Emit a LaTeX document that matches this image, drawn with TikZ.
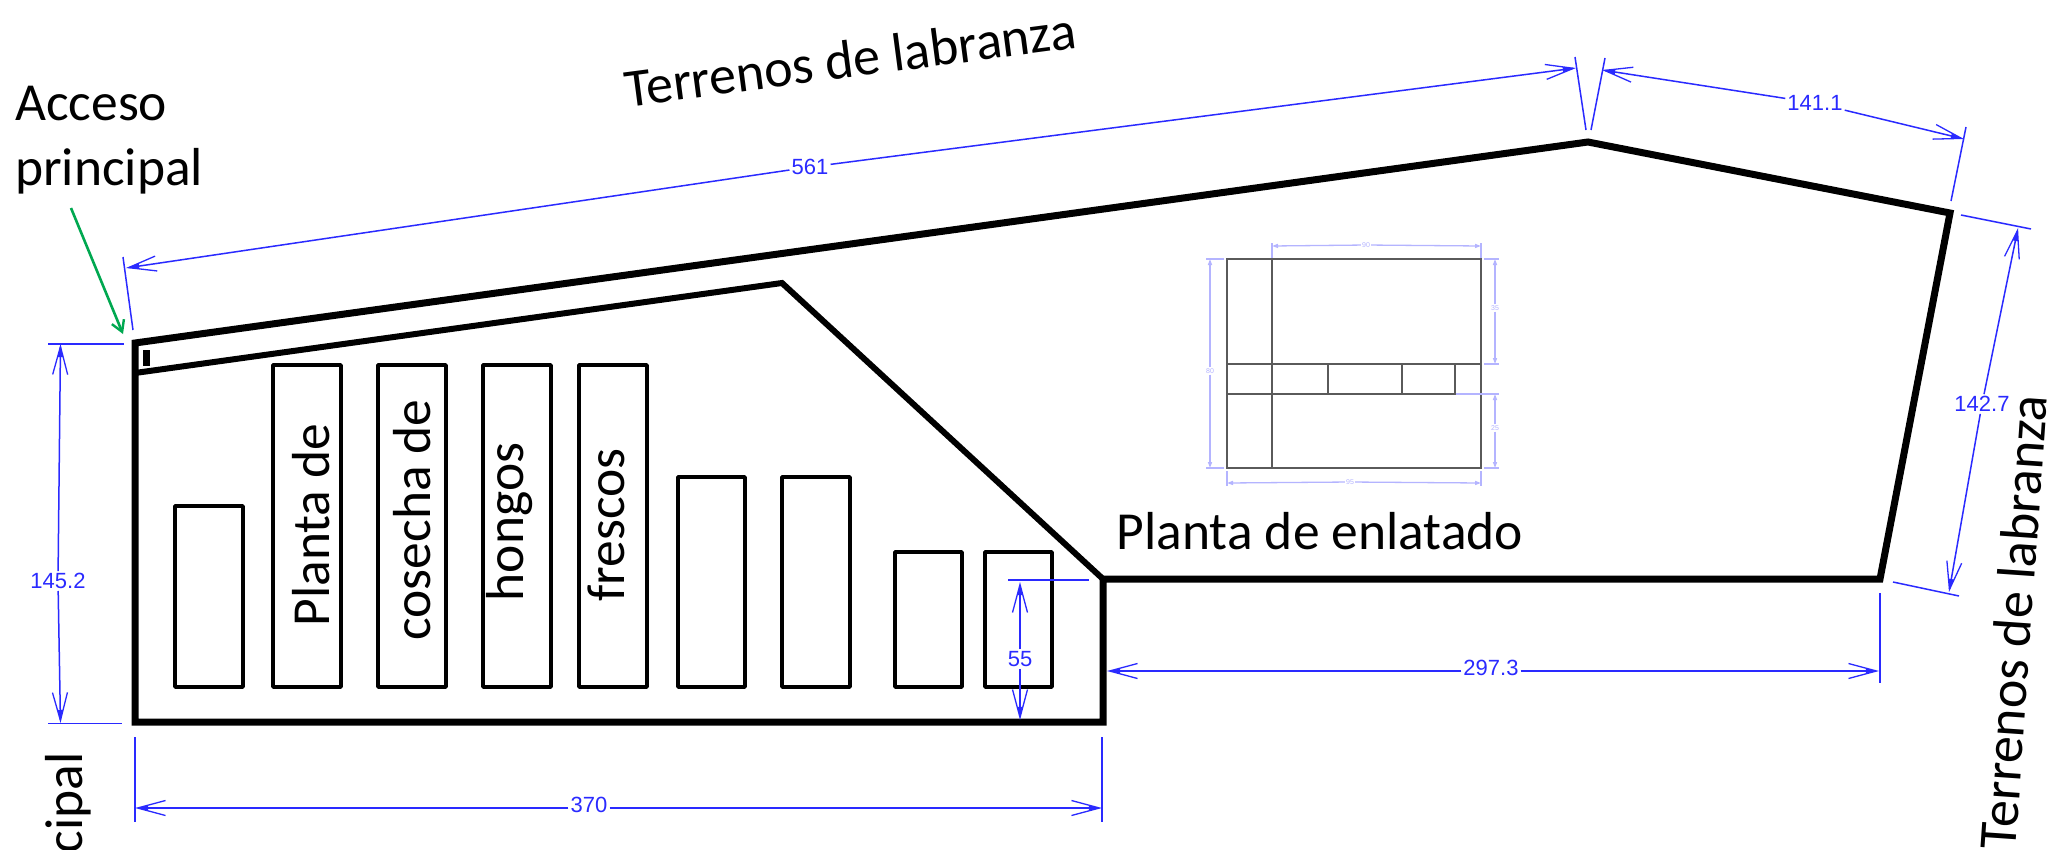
\documentclass[tikz,border=0pt]{standalone}
\usepackage{fontspec}
\setmainfont{Carlito}
\newfontfamily\dimfont{Liberation Sans}
\usetikzlibrary{arrows.meta}
\definecolor{dimblue}{HTML}{2A2AFF}
\definecolor{palegrid}{HTML}{B4B4FF}
\definecolor{wallgrey}{HTML}{5A5A5A}
\definecolor{accessgreen}{HTML}{00A850}
\tikzset{
  x=1pt,y=-1pt,
  wall/.style={draw=black,line width=7pt,line join=miter},
  innerwall/.style={draw=black,line width=6pt,line join=miter},
  bay/.style={draw=black,line width=3.6pt,line join=round},
  ext/.style={draw=dimblue,line width=1.5pt},
  dimline/.style={draw=dimblue,line width=1.5pt,-{Stealth[length=10pt,width=5pt,inset=0pt,sep=-28pt]Straight Barb[length=28pt,width=15pt,line width=1.3pt]}},
  dimlabel/.style={text=dimblue,font=\dimfont\fontsize{22}{22}\selectfont,inner sep=2pt},
  bigtext/.style={font=\fontsize{53.5}{60}\selectfont,inner sep=0pt},
  planline/.style={draw=wallgrey,line width=1.4pt},
  paleline/.style={draw=palegrid,line width=1.3pt},
  palearrow/.style={draw=palegrid,line width=1.3pt,-{Stealth[length=6pt,width=4pt,inset=0pt]}},
  palelabel/.style={text=palegrid,font=\dimfont\fontsize{7}{7}\selectfont,inner sep=1pt,fill=white},
}
\begin{document}
\begin{tikzpicture}
\useasboundingbox (0,0) rectangle (2051,849);
\fill[white] (0,0) rectangle (2051,849);
% small floor plan
\draw[planline] (1227,259) rectangle (1481,468);
\draw[planline] (1272,259) -- (1272,468);
\draw[planline] (1227,364) -- (1481,364);
\draw[planline] (1227,394) -- (1455,394) -- (1455,364);
\draw[planline] (1328,364) -- (1328,394);
\draw[planline] (1402,364) -- (1402,394);
% its pale dimensions
\coordinate (pa) at (1272,246); \coordinate (pb) at (1481,246);
\coordinate (pc) at (1227,483); \coordinate (pd) at (1481,483);
\coordinate (pe) at (1210,259); \coordinate (pf) at (1210,468);
\coordinate (pg) at (1495,259); \coordinate (ph) at (1495,364);
\coordinate (pi) at (1495,394); \coordinate (pj) at (1495,468);
\node[palelabel] (ptop) at (1366,245) {90};
\node[palelabel] (pbot) at (1350,482) {95};
\node[palelabel] (pleft) at (1210,371) {80};
\node[palelabel] (pr1) at (1495,308) {35};
\node[palelabel] (pr2) at (1495,428) {25};
\foreach \l/\e in {ptop/pa,ptop/pb,pbot/pc,pbot/pd,pleft/pe,pleft/pf,pr1/pg,pr1/ph,pr2/pi,pr2/pj}
  \draw[palearrow] (\l) -- (\e);
\draw[paleline] (1272,258) -- (1272,243);
\draw[paleline] (1481,258) -- (1481,243);
\draw[paleline] (1227,471) -- (1227,486);
\draw[paleline] (1481,471) -- (1481,486);
\draw[paleline] (1224,259) -- (1206,259);
\draw[paleline] (1224,468) -- (1206,468);
\draw[paleline] (1484,259) -- (1499,259);
\draw[paleline] (1484,364) -- (1499,364);
\draw[paleline] (1456,394) -- (1499,394);
\draw[paleline] (1484,468) -- (1499,468);
% walls
\draw[wall] (135,343) -- (1588,142) -- (1950,213) -- (1880,579) -- (1103,579) -- (1103,722) -- (135,722) -- cycle;
\draw[innerwall] (135,373) -- (782,283) -- (1103,579);
\fill[black] (143,350) rectangle (150,366);
% bays
\draw[bay] (175,506) rectangle (243,687);
\draw[bay] (273,365) rectangle (341,687);
\draw[bay] (378,365) rectangle (446,687);
\draw[bay] (483,365) rectangle (551,687);
\draw[bay] (579,365) rectangle (647,687);
\draw[bay] (678,477) rectangle (745,687);
\draw[bay] (782,477) rectangle (850,687);
\draw[bay] (895,552) rectangle (962,687);
\draw[bay] (985,552) rectangle (1052,687);
% big text
\node[bigtext,anchor=base west] (acc1) at (15,120) {Acceso};
\node[bigtext,anchor=base west] (acc2) at (15,185) {principal};
\node[bigtext,rotate=7.5,font=\fontsize{54}{60}\selectfont] (top) at (850,59) {Terrenos de labranza};
\node[bigtext,anchor=base] (plant) at (1320,549) {Planta de enlatado};
\node[bigtext,rotate=90] (t1) at (311,525) {Planta de};
\node[bigtext,rotate=90] (t2) at (412,520) {cosecha de};
\node[bigtext,rotate=90] (t3) at (510,522) {hongos};
\node[bigtext,rotate=90] (t4) at (606,525) {frescos};
\node[bigtext,rotate=86,font=\fontsize{54}{60}\selectfont] (right) at (2013,622) {Terrenos de labranza};
\node[bigtext,rotate=90,anchor=base east] (cip) at (82,752) {cipal};
% access arrow
\coordinate (acca) at (71,208); \coordinate (accb) at (123,334);
\draw[accessgreen,line width=2.6pt,-{Straight Barb[length=11pt,width=13pt,line width=2.4pt]}] (acca) -- (accb);
% dimensions
\coordinate (a1) at (126,268); \coordinate (a2) at (1576,68);
\node[dimlabel] (d561) at (810,167) {561};
\draw[dimline] (d561) -- (a1); \draw[dimline] (d561) -- (a2);
\draw[ext] (123,257) -- (133,330);
\draw[ext] (1575,57) -- (1586,130);
\coordinate (b1) at (1602,70); \coordinate (b2) at (1964,139);
\node[dimlabel] (d141) at (1815,103) {141.1};
\draw[dimline] (d141) -- (b1); \draw[dimline] (d141) -- (b2);
\draw[ext] (1605,58) -- (1591,130);
\draw[ext] (1966,127) -- (1951,201);
\coordinate (c1) at (2018,228); \coordinate (c2) at (1949,592);
\node[dimlabel] (d142) at (1982,404) {142.7};
\draw[dimline] (d142) -- (c1); \draw[dimline] (d142) -- (c2);
\draw[ext] (1961,215) -- (2031,229);
\draw[ext] (1893,582) -- (1959,596);
\coordinate (e1) at (60.5,344); \coordinate (e2) at (60.5,723);
\node[dimlabel] (d145) at (58,581) {145.2};
\draw[dimline] (d145) -- (e1); \draw[dimline] (d145) -- (e2);
\draw[ext] (48,344) -- (124,344);
\draw[ext] (48,723.5) -- (122,723.5);
\coordinate (f1) at (135,808); \coordinate (f2) at (1102,808);
\node[dimlabel] (d370) at (589,808) {\raisebox{7pt}{370}};
\draw[dimline] (d370) -- (f1); \draw[dimline] (d370) -- (f2);
\draw[ext] (135,737) -- (135,822);
\draw[ext] (1102,737) -- (1102,822);
\coordinate (g1) at (1107,671); \coordinate (g2) at (1879,671);
\node[dimlabel] (d297) at (1491,671) {\raisebox{7pt}{297.3}};
\draw[dimline] (d297) -- (g1); \draw[dimline] (d297) -- (g2);
\draw[ext] (1880,593) -- (1880,683);
\coordinate (h1) at (1020,582); \coordinate (h2) at (1020,720);
\node[dimlabel] (d55) at (1020,659) {55};
\draw[dimline] (d55) -- (h1); \draw[dimline] (d55) -- (h2);
\draw[ext] (1008,580) -- (1089,580);
\end{tikzpicture}
\end{document}
